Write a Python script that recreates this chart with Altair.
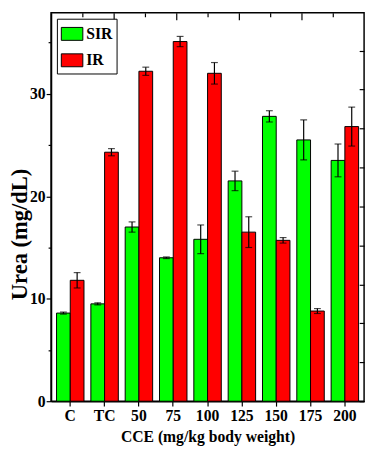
import altair as alt
import pandas as pd

categories = ["C", "TC", "50", "75", "100", "125", "150", "175", "200"]
groups = ["SIR", "IR"]
sir = [8.6, 9.5, 17.0, 14.0, 15.8, 21.5, 27.8, 25.5, 23.5]
sir_err = [0.1, 0.1, 0.5, 0.08, 1.4, 0.95, 0.55, 1.95, 1.6]
ir = [11.8, 24.3, 32.2, 35.1, 32.0, 16.5, 15.7, 8.8, 26.8]
ir_err = [0.75, 0.35, 0.4, 0.5, 1.05, 1.5, 0.27, 0.24, 1.9]
colors = ["#00ff00", "#ff0000"]

rows = []
for c, v, e in zip(categories, sir, sir_err):
    rows.append({"cat": c, "group": "SIR", "value": v, "err": e})
for c, v, e in zip(categories, ir, ir_err):
    rows.append({"cat": c, "group": "IR", "value": v, "err": e})
df = pd.DataFrame(rows)
df["lo"] = df["value"] - df["err"]
df["hi"] = df["value"] + df["err"]

FONT = "Times New Roman"
Y_MAX = 37.9

x_enc = alt.X(
    "cat:N", sort=categories,
    scale=alt.Scale(domain=categories, paddingInner=0.2, paddingOuter=0.16),
    axis=alt.Axis(
        title="CCE (mg/kg body weight)", labelAngle=0, tickSize=5, tickWidth=1.2,
        tickColor="black", domainColor="black", domainWidth=1.5,
        labelFont=FONT, labelFontWeight="bold", labelFontSize=16, labelColor="black",
        labelPadding=2, titleFont=FONT, titleFontWeight="bold", titleFontSize=16,
        titleColor="black", titlePadding=5,
    ),
)
xo_enc = alt.XOffset("group:N", sort=groups, scale=alt.Scale(domain=groups))

y_axis = alt.Axis(
    title="Urea (mg/dL)", values=[0, 5, 10, 15, 20, 25, 30, 35],
    labelExpr="datum.value % 10 === 0 ? datum.label : ''",
    tickSize={"condition": {"test": "datum.value % 10 === 0", "value": 5}, "value": 3},
    tickWidth=1.2, tickColor="black", domainColor="black", domainWidth=1.5,
    grid=False, labelFont=FONT, labelFontWeight="bold", labelFontSize=16,
    labelColor="black", labelPadding=1,
    titleFont=FONT, titleFontWeight="bold", titleFontSize=23, titleColor="black",
    titleX=-20, titleY=226,
)
y_scale = alt.Scale(domain=[0, Y_MAX], nice=False, zero=True)

base = alt.Chart(df)

bars = base.mark_bar(stroke="black", strokeWidth=1).encode(
    x=x_enc, xOffset=xo_enc,
    y=alt.Y("value:Q", scale=y_scale, axis=y_axis),
    color=alt.Color(
        "group:N", sort=groups,
        scale=alt.Scale(domain=groups, range=colors),
        legend=alt.Legend(
            title=None, orient="none", legendX=6, legendY=6,
            strokeColor="black", fillColor="white", padding=4,
            symbolType="M-1,-0.6L1,-0.6L1,0.6L-1,0.6Z", symbolSize=484,
            symbolStrokeColor="black", symbolStrokeWidth=1, symbolOpacity=1,
            labelFont=FONT, labelFontWeight="bold", labelFontSize=16,
            labelColor="black", labelOffset=3, rowPadding=6,
        ),
    ),
)

rules = base.mark_rule(color="black", strokeWidth=1.2).encode(
    x=x_enc, xOffset=xo_enc,
    y=alt.Y("lo:Q", scale=y_scale, axis=y_axis), y2="hi:Q",
)
cap_lo = base.mark_tick(color="black", orient="horizontal", size=7, thickness=1.2).encode(
    x=x_enc, xOffset=xo_enc, y=alt.Y("lo:Q", scale=y_scale, axis=y_axis),
)
cap_hi = base.mark_tick(color="black", orient="horizontal", size=7, thickness=1.2).encode(
    x=x_enc, xOffset=xo_enc, y=alt.Y("hi:Q", scale=y_scale, axis=y_axis),
)

main = alt.layer(bars, rules, cap_lo, cap_hi)

# secondary (unlabelled) frame axes
right_dom = pd.DataFrame({"r": [0, 9.97]})
right = alt.Chart(right_dom).mark_point(opacity=0).encode(
    y=alt.Y("r:Q", scale=alt.Scale(domain=[0, 9.97], nice=False),
            axis=alt.Axis(orient="right", values=list(range(10)), tickSize=5,
                          offset=-5, domain=False, labels=False, title=None,
                          grid=False, tickColor="black", tickWidth=1.2)),
)
top_dom = pd.DataFrame({"t": [0, 10]})
top_major = alt.Chart(top_dom).mark_point(opacity=0).encode(
    x=alt.X("t:Q", scale=alt.Scale(domain=[0, 10], nice=False),
            axis=alt.Axis(orient="top", values=[2, 4, 6, 8], tickSize=7,
                          offset=-7, domain=False, labels=False, title=None,
                          grid=False, tickColor="black", tickWidth=1.2)),
)
top_minor = alt.Chart(top_dom).mark_point(opacity=0).encode(
    x=alt.X("t:Q", scale=alt.Scale(domain=[0, 10], nice=False),
            axis=alt.Axis(orient="top", values=[1, 3, 5, 7, 9], tickSize=4,
                          offset=-4, domain=False, labels=False, title=None,
                          grid=False, tickColor="black", tickWidth=1.2)),
)

chart = alt.layer(main, right, top_major, top_minor).resolve_scale(
    x="independent", y="independent"
).resolve_axis(x="independent", y="independent").properties(
    width=320, height=397,
    autosize=alt.AutoSizeParams(type="none"),
    padding={"left": 44, "top": 0, "right": 4, "bottom": 49},
).configure_view(stroke="black", strokeWidth=1.5)

chart.save("out.html", embed_options={"renderer": "svg", "actions": False})
